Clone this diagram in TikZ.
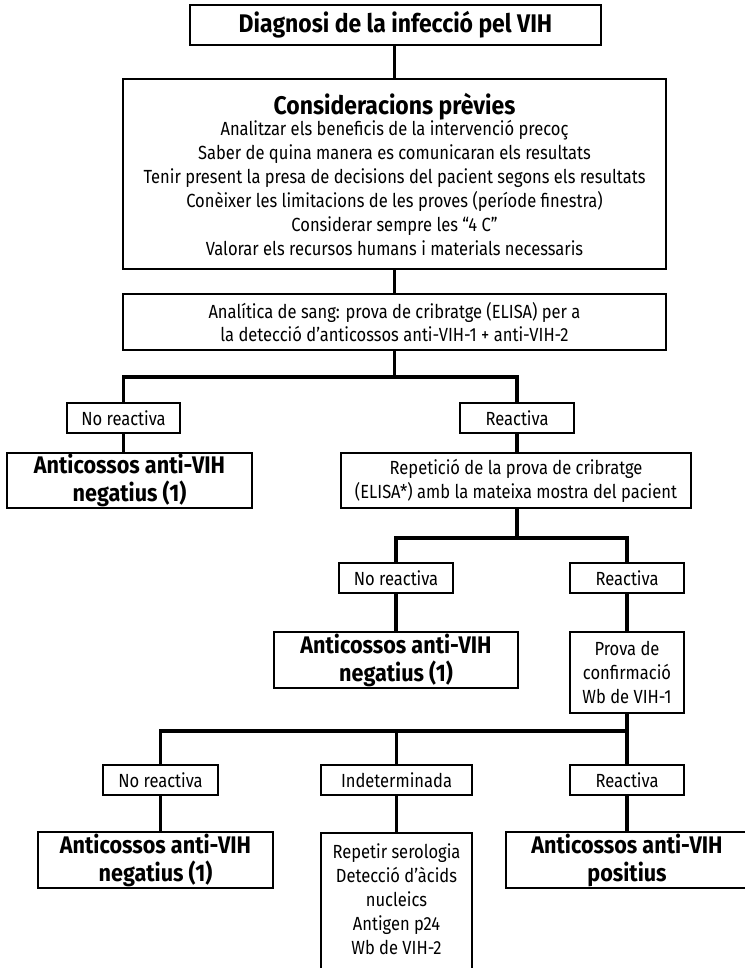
\documentclass[tikz,border=0pt]{standalone}
\usepackage{fontspec}
\newfontfamily\regf{Fira Sans}[FakeStretch=0.87]
\newfontfamily\boldf{Fira Sans}[FakeStretch=0.9]
\newcommand\txtfont{\regf\fontsize{19}{24}\selectfont}
\newcommand\hdfont{\boldf\bfseries\fontsize{24}{28}\selectfont}
\newcommand\ttlfont{\boldf\bfseries\fontsize{25.5}{28}\selectfont}
\tikzset{
  box/.style={draw, line width=1.5pt, inner sep=0pt, align=center, font=\txtfont},
  resbox/.style={box, font=\hdfont},
  tag/.style={box, minimum width=114, minimum height=30},
  link/.style={line width=3.4pt},
}
\begin{document}
\begin{tikzpicture}[x=1pt, y=-1pt]
\useasboundingbox (0,0) rectangle (744,968);

% top of the chart
\node[box, font=\ttlfont, minimum width=411, minimum height=40] (title) at (395.5,25) {Diagnosi de la infecció pel VIH};
\node[box, minimum width=543, minimum height=190] (consid) at (394.5,174)
  {{\ttlfont Consideracions prèvies}\\[-3pt]
   Analitzar els beneficis de la intervenció precoç\\
   Saber de quina manera es comunicaran els resultats\\
   Tenir present la presa de decisions del pacient segons els resultats\\
   Conèixer les limitacions de les proves (període finestra)\\
   Considerar sempre les “4 C”\\
   Valorar els recursos humans i materials necessaris};
\node[box, minimum width=543, minimum height=56, font=\regf\fontsize{19}{23}\selectfont] (anal) at (394.5,322)
  {Analítica de sang: prova de cribratge (ELISA) per a\\
   la detecció d’anticossos anti-VIH-1 + anti-VIH-2};

% first screening result
\coordinate (b1) at (394.5,377);
\node[tag, minimum width=113] (nr1) at (123.5,418) {No reactiva};
\node[tag] (r1) at (517,418) {Reactiva};
\node[resbox, minimum width=245, minimum height=55] (a1) at (129.5,480.5) {Anticossos anti-VIH\\negatius (1)};
\node[box, minimum width=350, minimum height=55] (rep) at (516,480.5)
  {Repetició de la prova de cribratge\\(ELISA*) amb la mateixa mostra del pacient};

% repeated screening result
\coordinate (b2) at (517,538);
\node[tag] (nr2) at (396,578) {No reactiva};
\node[tag] (r2) at (627,578) {Reactiva};
\node[resbox, minimum width=244, minimum height=56] (a2) at (396,660) {Anticossos anti-VIH\\negatius (1)};
\node[tag, minimum height=81] (wb) at (627,672.5) {Prova de\\confirmació\\Wb de VIH-1};

% confirmation result
\coordinate (b3) at (627,731);
\node[tag, minimum width=115] (nr3) at (160.5,780) {No reactiva};
\node[tag, minimum width=151] (ind) at (396.5,780) {Indeterminada};
\node[tag] (r3) at (627,780) {Reactiva};
\node[resbox, minimum width=235, minimum height=56] (a3) at (155.5,860) {Anticossos anti-VIH\\negatius (1)};
\node[box, minimum width=151, minimum height=150, anchor=north] (more) at (396.5,832) {};
\node[font=\txtfont, anchor=north, align=center, inner sep=0pt] (moretxt) at (396.5,843)
  {Repetir serologia\\Detecció d’àcids\\nucleics\\Antigen p24\\Wb de VIH-2};
\node[resbox, minimum width=242, minimum height=56] (apos) at (627,860) {Anticossos anti-VIH\\positius};

% connectors
\draw[link] (consid.north |- title.south) -- (consid.north);
\draw[link] (consid.south) -- (anal.north);
\draw[link] (anal.south) -- (b1);
\draw[link] (nr1.north) |- (b1) -| (r1.north);
\draw[link] (nr1.south) -- (nr1.south |- a1.north);
\draw[link] (r1.south) -- (r1.south |- rep.north);
\draw[link] (b2 |- rep.south) -- (b2);
\draw[link] (nr2.north) |- (b2) -| (r2.north);
\draw[link] (nr2.south) -- (nr2.south |- a2.north);
\draw[link] (r2.south) -- (wb.north);
\draw[link] (wb.south) -- (b3);
\draw[link] (nr3.north) |- (b3) -- (r3.north);
\draw[link] (ind.north) -- (ind.north |- b3);
\draw[link] (nr3.south) -- (nr3.south |- a3.north);
\draw[link] (ind.south) -- (more.north);
\draw[link] (r3.south) -- (apos.north);
\end{tikzpicture}
\end{document}
